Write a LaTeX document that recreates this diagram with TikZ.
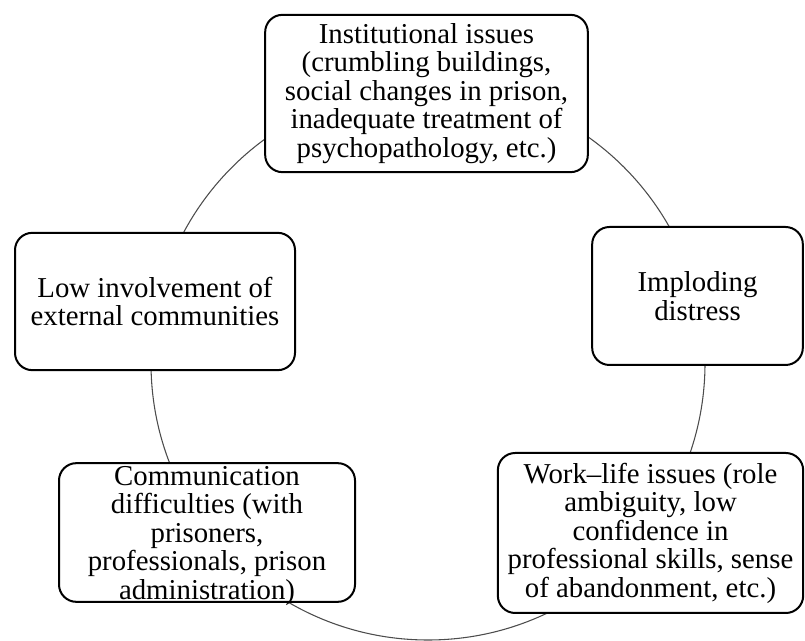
\documentclass[tikz,border=0pt]{standalone}
\usepackage{fontspec}
\setmainfont{Liberation Serif}
\begin{document}
\begin{tikzpicture}[line cap=round,line join=round,x=0.75pt,y=0.75pt,
    issue/.style={draw, line width=1.5pt, rounded corners=13pt, fill=white, align=center, inner sep=0pt, font=\fontsize{21.6}{21.4}\selectfont}]
                        \useasboundingbox (0,0) rectangle (805,641);

                        \coordinate (hub) at (428,278);
                        \draw [line width=0.8pt, black!70] (hub) circle (277);

                        \node[issue, minimum width=242pt, minimum height=118pt] (inst) at (426.5,547.5) {Institutional issues\\(crumbling buildings,\\social changes in prison,\\inadequate treatment of\\psychopathology, etc.)};

                        \node[issue, minimum width=158pt, minimum height=103.5pt] (impl) at (697.5,345) {Imploding\\distress};

                        \node[issue, minimum width=229pt, minimum height=120pt] (work) at (650.5,108) {Work\textendash life issues (role\\ambiguity, low\\confidence in\\professional skills, sense\\of abandonment, etc.)};

                        \node[issue, minimum width=222pt, minimum height=104pt] (comm) at (207,108.5) {};
                        \node[font=\fontsize{21.6}{21.4}\selectfont, align=center, inner sep=0pt] (commtext) at ([yshift=-2.5pt]comm.center) {Communication\\difficulties (with\\prisoners,\\professionals, prison\\administration)};

                        \node[issue, minimum width=210pt, minimum height=103pt] (low) at (155,339.5) {Low involvement of\\external communities};
                    \end{tikzpicture}
\end{document}
